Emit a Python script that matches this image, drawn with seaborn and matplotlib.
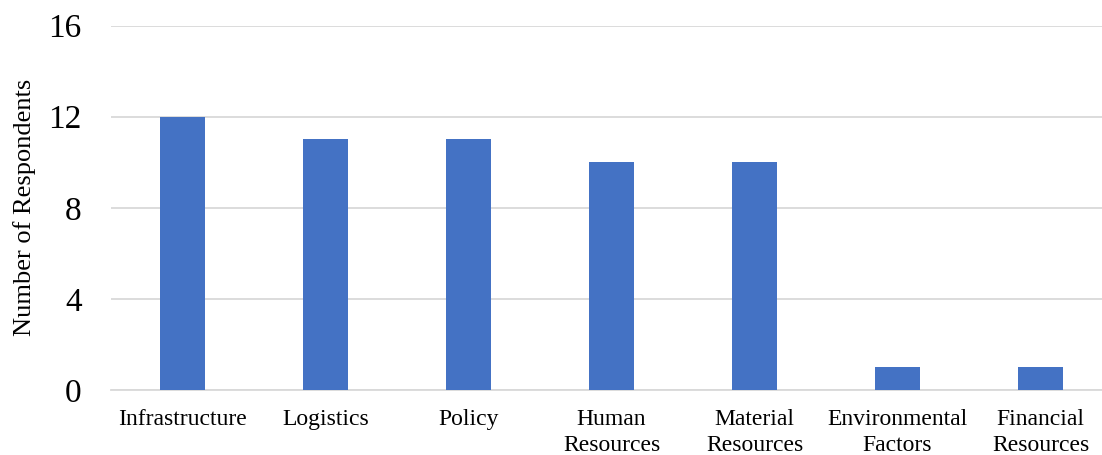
# Number of respondents per barrier category
import matplotlib
matplotlib.use("Agg")
import matplotlib.pyplot as plt
import pandas as pd
import seaborn as sns

categories = ["Infrastructure", "Logistics", "Policy", "Human\nResources",
              "Material\nResources", "Environmental\nFactors", "Financial\nResources"]
respondents = [12, 11, 11, 10, 10, 1, 1]
y_ticks = [0, 4, 8, 12, 16]

df = pd.DataFrame({"category": categories, "respondents": respondents})

sns.set_style("white")
plt.rcParams["font.family"] = ["Liberation Serif", "DejaVu Serif"]
plt.rcParams["text.color"] = "black"
plt.rcParams["xtick.color"] = "black"
plt.rcParams["ytick.color"] = "black"
plt.rcParams["axes.labelcolor"] = "black"

fig = plt.figure(figsize=(11.02, 4.55), dpi=100)
ax = fig.add_axes([111 / 1102, 65 / 455, 1001 / 1102, 364.5 / 455])

sns.barplot(data=df, x="category", y="respondents", color="#4472C4",
            width=0.315, saturation=1, linewidth=0, ax=ax, zorder=3)

ax.set_ylim(0, 16)
ax.set_xlim(-0.5, len(categories) - 0.5)
ax.set_yticks(y_ticks)
ax.yaxis.grid(True, color="#D9D9D9", linewidth=1.3, zorder=0)
ax.set_axisbelow(True)
for s in ["top", "right", "left"]:
    ax.spines[s].set_visible(False)
ax.spines["bottom"].set_color("#D9D9D9")
ax.spines["bottom"].set_linewidth(1.3)

ax.tick_params(axis="y", length=0, pad=21, labelsize=24)
ax.tick_params(axis="x", length=0, pad=14, labelsize=17)
for lbl in ax.get_xticklabels():
    lbl.set_linespacing(1.3)
ax.set_xlabel("")
ax.set_ylabel("Number of Respondents", fontsize=19, labelpad=9)

fig.savefig("out.png", dpi=100)
